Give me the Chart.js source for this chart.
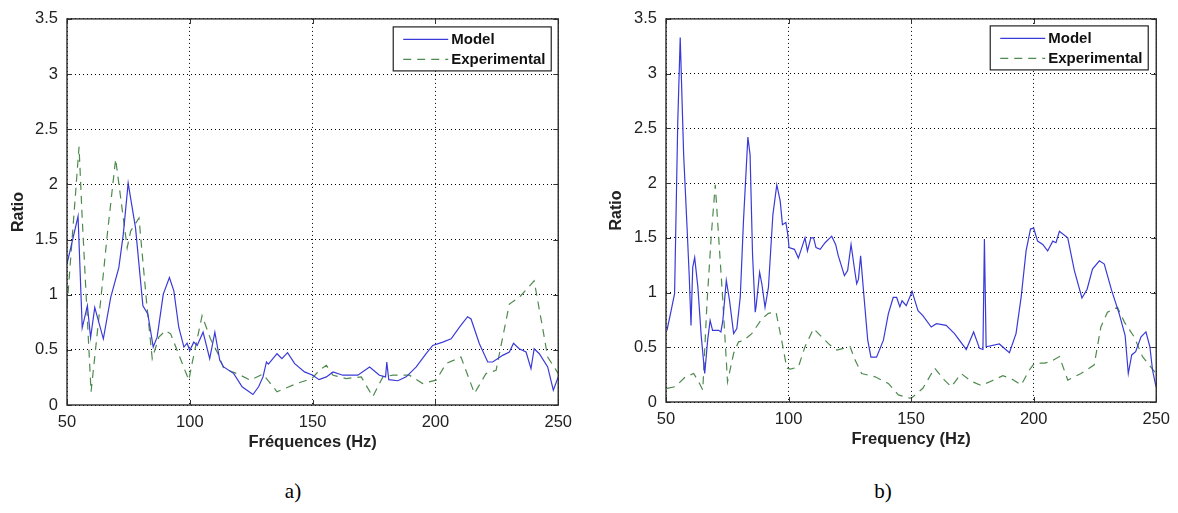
<!DOCTYPE html>
<html><head><meta charset="utf-8">
<script src="https://cdn.jsdelivr.net/npm/chart.js@4"></script>
<style>
html,body{margin:0;padding:0;background:#fff;width:1178px;height:513px;overflow:hidden;position:relative}
canvas{position:absolute}
.lab{position:absolute;font-family:'Liberation Serif','Times New Roman',serif;font-size:21px;color:#000;top:479px;transform:translateX(-50%)}
</style></head><body>
<canvas id="ca" width="580" height="460" style="left:0;top:0"></canvas>
<canvas id="cb" width="580" height="460" style="left:598px;top:0"></canvas>
<div class="lab" style="left:293px">a)</div>
<div class="lab" style="left:883px">b)</div>
<script>
// ---- data ----
const xTickValues = [50, 100, 150, 200, 250];
const yTickValues = [0, 0.5, 1, 1.5, 2, 2.5, 3, 3.5];
const seriesNames = ['Model', 'Experimental'];
const xTitleA = 'Fréquences (Hz)';
const xTitleB = 'Frequency (Hz)';
const yTitle = 'Ratio';

const aModelFreq  = [50,54.5,56.2,58.3,59.6,61.3,64.8,67.8,71.1,72.9,74.9,77.9,80.9,82.9,85.1,86.7,89.2,91.7,93.5,95.5,97.6,98.9,100,101.6,103,105.4,108.1,110.2,112.2,113.8,117.9,121.3,125.7,128,129.8,131.2,132,135.5,137.5,139.8,142.7,146.7,150.1,152.6,155.6,158.3,162.3,168.4,173.2,177.2,179.7,180.2,181,184.7,188.1,192.2,196.2,198.9,203,206.4,209.8,213.1,214.5,217.9,221.3,223.3,227.4,230.1,231.8,234.1,236.9,238.9,240.2,242.3,245.7,248,250];
const aModelRatio = [1.28,1.71,0.70,0.90,0.61,0.885,0.60,0.975,1.245,1.545,2.01,1.605,0.90,0.825,0.525,0.615,1.005,1.155,1.035,0.705,0.525,0.56,0.495,0.57,0.54,0.66,0.42,0.66,0.405,0.345,0.285,0.165,0.095,0.165,0.255,0.39,0.37,0.465,0.42,0.475,0.375,0.30,0.27,0.23,0.255,0.30,0.27,0.27,0.345,0.27,0.255,0.39,0.23,0.22,0.255,0.345,0.465,0.54,0.57,0.60,0.705,0.80,0.78,0.555,0.39,0.39,0.45,0.48,0.56,0.51,0.48,0.33,0.51,0.465,0.345,0.135,0.255];

const aExpFreq  = [50,54.9,56.2,59.8,63.7,66.4,69.8,74.5,75.9,79.3,82.6,84.7,87.4,90.1,92.2,99.6,100.9,105,108.4,111.8,113.8,119.2,124.7,129.8,135.5,143.6,149.7,152.8,155.6,158.3,163.7,169.8,174.5,178.6,182.7,189.4,194.8,200.3,204.3,210.4,215.9,220.6,224.7,230.1,234.1,240.2,243.6,245.7,250];
const aExpRatio = [0.885,2.34,1.69,0.12,0.945,1.545,2.23,1.425,1.575,1.695,0.885,0.42,0.615,0.675,0.645,0.225,0.375,0.81,0.60,0.45,0.33,0.285,0.225,0.28,0.12,0.195,0.24,0.315,0.36,0.27,0.24,0.255,0.075,0.255,0.27,0.27,0.195,0.225,0.375,0.435,0.105,0.285,0.315,0.915,0.975,1.125,0.705,0.435,0.285];

const bModelFreq  = [50.4,52.4,53.5,54.8,55.8,57.2,58.6,59.5,60.2,60.9,61.7,63,64.4,65.8,67,68,69,71.5,72.4,73.2,74.6,75.9,77.6,78.9,80.3,81.6,83.4,84.3,85.3,86.4,86.8,88.2,89.1,90.4,91.8,93.6,95.2,96.6,97.5,98.9,99.7,100.2,102.4,104,105.4,106.7,107.7,109.1,110.2,111.2,112.9,114.9,117.6,119.2,120.3,122.8,124.1,125.5,126.9,127.8,128.5,129.4,130.9,132.3,133.6,135.9,138.7,140.7,142.7,144.1,145.4,146.3,148,150.4,152.8,154.8,158.2,160.3,164.3,167.7,172.5,175.5,177.9,179.3,179.9,180.6,186,190.1,192.8,194.9,196.9,198.7,200,201.6,203.7,205.7,207.8,209.1,210.5,213.9,216.6,219.7,221.8,224,226.8,228.8,231.8,234.9,237.3,238.6,240,241.6,243.8,245.8,247.4,248.5,249.9];
const bModelRatio = [0.655,0.87,0.99,2.56,3.33,2.26,1.59,1.14,0.70,1.23,1.32,1.05,0.595,0.26,0.565,0.745,0.655,0.655,0.64,0.745,1.11,0.93,0.625,0.67,0.96,1.65,2.42,2.26,1.35,0.82,0.88,1.185,1.08,0.865,1.05,1.71,1.985,1.835,1.62,1.64,1.53,1.41,1.395,1.315,1.41,1.50,1.38,1.50,1.50,1.41,1.395,1.455,1.515,1.44,1.335,1.155,1.20,1.44,1.215,1.08,1.12,1.335,0.93,0.565,0.41,0.41,0.565,0.805,0.955,0.955,0.87,0.925,0.88,1.01,0.835,0.79,0.685,0.715,0.70,0.625,0.48,0.64,0.49,0.48,1.49,0.505,0.53,0.45,0.625,0.96,1.38,1.58,1.59,1.47,1.44,1.38,1.47,1.455,1.56,1.50,1.20,0.95,1.03,1.215,1.29,1.26,1.02,0.805,0.61,0.26,0.43,0.46,0.595,0.64,0.505,0.29,0.14];

const bExpFreq  = [50.4,53.8,57.9,61.3,63.3,65,66.7,68.5,70.1,71.5,73.1,75.1,77.6,79.6,81.6,85,89.1,91.8,94.9,97.3,99.3,100.7,104,106.7,110.2,113.5,116.9,119.7,122.4,125.1,127.1,129.8,135.3,140.7,144.8,149.5,150.1,154.8,159.6,163.6,166.4,170.4,174.5,178.6,182.6,187.4,190.8,194.9,198.3,200.3,204.4,207.1,210.5,213.9,219.3,224.7,227.4,230.1,234.2,237,241,244.4,246.5,249.9];
const bExpRatio = [0.125,0.14,0.23,0.26,0.185,0.11,0.895,1.53,1.985,1.50,0.955,0.185,0.445,0.55,0.56,0.625,0.76,0.81,0.82,0.55,0.31,0.30,0.32,0.505,0.67,0.595,0.52,0.475,0.49,0.505,0.385,0.26,0.23,0.17,0.065,0.035,0.035,0.125,0.31,0.20,0.14,0.26,0.19,0.15,0.19,0.24,0.215,0.155,0.295,0.355,0.355,0.37,0.415,0.20,0.26,0.34,0.685,0.82,0.865,0.73,0.595,0.415,0.355,0.26];

// ---- styling / helpers ----
const FONT = "'Liberation Sans', Arial, sans-serif";
const modelColor = '#3a3ad8';
const expColor = '#4e8a4e';
const pts = (xs, ys) => xs.map((x, i) => ({x, y: ys[i]}));

const framePlugin = {
  id: 'frame',
  afterDraw(chart) {
    const {ctx, chartArea: a, scales} = chart;
    ctx.save();
    ctx.strokeStyle = '#333'; ctx.lineWidth = 1; ctx.setLineDash([]);
    ctx.beginPath();
    scales.x.ticks.forEach(t => {
      const px = Math.round(scales.x.getPixelForValue(t.value)) + 0.5;
      ctx.moveTo(px, a.bottom); ctx.lineTo(px, a.bottom - 5);
      ctx.moveTo(px, a.top); ctx.lineTo(px, a.top + 5);
    });
    scales.y.ticks.forEach(t => {
      const py = Math.round(scales.y.getPixelForValue(t.value)) + 0.5;
      ctx.moveTo(a.left, py); ctx.lineTo(a.left + 5, py);
      ctx.moveTo(a.right, py); ctx.lineTo(a.right - 5, py);
    });
    ctx.stroke();
    ctx.strokeStyle = '#2a2a2a'; ctx.lineWidth = 1.4;
    ctx.strokeRect(a.left, a.top, a.right - a.left, a.bottom - a.top);
    const o = chart.options.plugins.frame;
    const w = 158, h = 44;
    const bx = a.right - o.rightGap - w, by = a.top + o.topGap;
    ctx.fillStyle = '#fff';
    ctx.fillRect(bx, by, w, h);
    ctx.lineWidth = 1.2; ctx.strokeStyle = '#222';
    ctx.strokeRect(bx, by, w, h);
    ctx.font = "bold 15px " + FONT;
    ctx.textBaseline = 'middle'; ctx.textAlign = 'left';
    chart.data.datasets.forEach((ds, i) => {
      const ly = by + 12.5 + i * 20;
      ctx.strokeStyle = ds.borderColor; ctx.lineWidth = 1.2;
      ctx.setLineDash(ds.borderDash || []);
      ctx.beginPath(); ctx.moveTo(bx + 10, ly); ctx.lineTo(bx + 55, ly); ctx.stroke();
      ctx.setLineDash([]);
      ctx.fillStyle = '#111';
      ctx.fillText(ds.label, bx + 58, ly + 0.5);
    });
    ctx.restore();
  }
};

function makeChart(id, model, exp, xTitle, cfg) {
  return new Chart(document.getElementById(id), {
    type: 'line',
    data: {
      datasets: [
        {label: seriesNames[0], data: model, borderColor: modelColor, borderWidth: 1.2, pointRadius: 0, tension: 0, fill: false},
        {label: seriesNames[1], data: exp, borderColor: expColor, borderWidth: 1.2, borderDash: [8, 6], pointRadius: 0, tension: 0, fill: false}
      ]
    },
    options: {
      responsive: false, animation: false, devicePixelRatio: 1,
      layout: {padding: {left: 0, right: cfg.right, top: 16, bottom: 0}},
      plugins: {legend: {display: false}, tooltip: {enabled: false},
        frame: {rightGap: cfg.legRight, topGap: cfg.legTop}},
      scales: {
        x: {
          type: 'linear', min: 50, max: 250,
          afterBuildTicks: s => { s.ticks = xTickValues.map(v => ({value: v})); },
          afterFit: s => { s.height = cfg.xh; },
          grid: {color: '#000', lineWidth: 1, drawTicks: false, tickLength: 0},
          border: {display: false, dash: [1, 3]},
          ticks: {padding: cfg.xtp, color: '#222', font: {family: FONT, size: 16.5}, maxRotation: 0, callback: v => String(v)},
          title: {display: true, text: xTitle, color: '#222', font: {family: FONT, size: 16.5, weight: 'bold'}, padding: {top: 0, bottom: cfg.xtitle}}
        },
        y: {
          min: 0, max: 3.5,
          afterBuildTicks: s => { s.ticks = yTickValues.map(v => ({value: v})); },
          afterFit: s => { s.width = cfg.yw; },
          grid: {color: '#000', lineWidth: 1, drawTicks: false, tickLength: 0},
          border: {display: false, dash: [1, 3]},
          ticks: {padding: 9, color: '#222', font: {family: FONT, size: 16.5}, callback: v => String(v)},
          title: {display: true, text: yTitle, color: '#222', font: {family: FONT, size: 16, weight: 'bold'}, padding: {top: 9, bottom: 0}}
        }
      }
    },
    plugins: [framePlugin]
  });
}

makeChart('ca', pts(aModelFreq, aModelRatio), pts(aExpFreq, aExpRatio), xTitleA,
  {right: 21, yw: 67, xh: 55, xtp: 8, xtitle: 8, legRight: 7, legTop: 8});
makeChart('cb', pts(bModelFreq, bModelRatio), pts(bExpFreq, bExpRatio), xTitleB,
  {right: 21, yw: 68, xh: 58, xtp: 8, xtitle: 11, legRight: 8, legTop: 7});
</script>
</body></html>
